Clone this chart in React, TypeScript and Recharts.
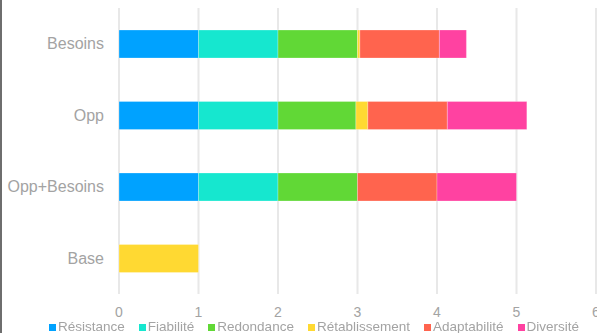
import React from "react";
import { BarChart, Bar, XAxis, YAxis, CartesianGrid, Legend } from "recharts";

const categories = ["Besoins", "Opp", "Opp+Besoins", "Base"];
const seriesNames = ["Résistance", "Fiabilité", "Redondance", "Rétablissement", "Adaptabilité", "Diversité"];
const resistance = [1, 1, 1, 0];
const fiabilite = [1, 1, 1, 0];
const redondance = [1, 0.98, 1, 0];
const retablissement = [0.03, 0.15, 0, 1];
const adaptabilite = [1, 1, 1, 0];
const diversite = [0.34, 1, 1, 0];
const xTicks = [0, 1, 2, 3, 4, 5, 6];
const colors = ["#00A2FF", "#16E7CF", "#61D836", "#FFD932", "#FF644E", "#FF42A1"];

const seriesValues = [resistance, fiabilite, redondance, retablissement, adaptabilite, diversite];
const data = categories.map((c, i) => {
  const row: Record<string, any> = { name: c };
  seriesNames.forEach((s, j) => {
    row[s] = seriesValues[j][i];
  });
  return row;
});

const LegendContent = () => (
  <div style={{ display: "flex", alignItems: "center", fontFamily: "'Liberation Sans', Arial, sans-serif", fontSize: 13.5, lineHeight: "16px", color: "#a3a3a3", whiteSpace: "nowrap" }}>
    {seriesNames.map((s, i) => (
      <div key={s} style={{ display: "flex", alignItems: "center", marginRight: 14 }}>
        <span style={{ display: "inline-block", width: 7, height: 7, background: colors[i], marginRight: 2 }} />
        <span>{s}</span>
      </div>
    ))}
  </div>
);

export default function App() {
  return (
    <div style={{ position: "fixed", left: 0, top: 0, width: 597, height: 333, background: "#fff" }}>
      <div style={{ position: "absolute", left: 0, top: 0, width: 2, height: 333, background: "#6e6e6e" }} />
      <BarChart
        width={597}
        height={333}
        data={data}
        layout="vertical"
        margin={{ top: 8, right: 1, bottom: 1, left: 0 }}
        barSize={28}
      >
        <CartesianGrid horizontal={false} vertical={true} stroke="#e8e8e8" strokeWidth={2} />
        <XAxis
          type="number"
          domain={[0, 6]}
          ticks={xTicks}
          axisLine={false}
          tickLine={false}
          tickSize={0}
          tickMargin={13}
          height={22}
          interval={0}
          tick={{ fill: "#a3a3a3", fontSize: 14, fontFamily: "'Liberation Sans', Arial, sans-serif" }}
        />
        <YAxis
          type="category"
          dataKey="name"
          width={119}
          axisLine={false}
          tickLine={false}
          tickSize={0}
          tickMargin={15}
          tick={{ fill: "#a3a3a3", fontSize: 16, fontFamily: "'Liberation Sans', Arial, sans-serif" }}
        />
        <Legend
          content={<LegendContent />}
          wrapperStyle={{ position: "absolute", left: 49, top: 319, width: "auto", height: 16 }}
        />
        {seriesNames.map((s, i) => (
          <Bar
            key={s}
            dataKey={s}
            stackId="a"
            fill={colors[i]}
            stroke="#ffffff"
            strokeOpacity={0.25}
            strokeWidth={1}
            isAnimationActive={false}
          />
        ))}
      </BarChart>
    </div>
  );
}
